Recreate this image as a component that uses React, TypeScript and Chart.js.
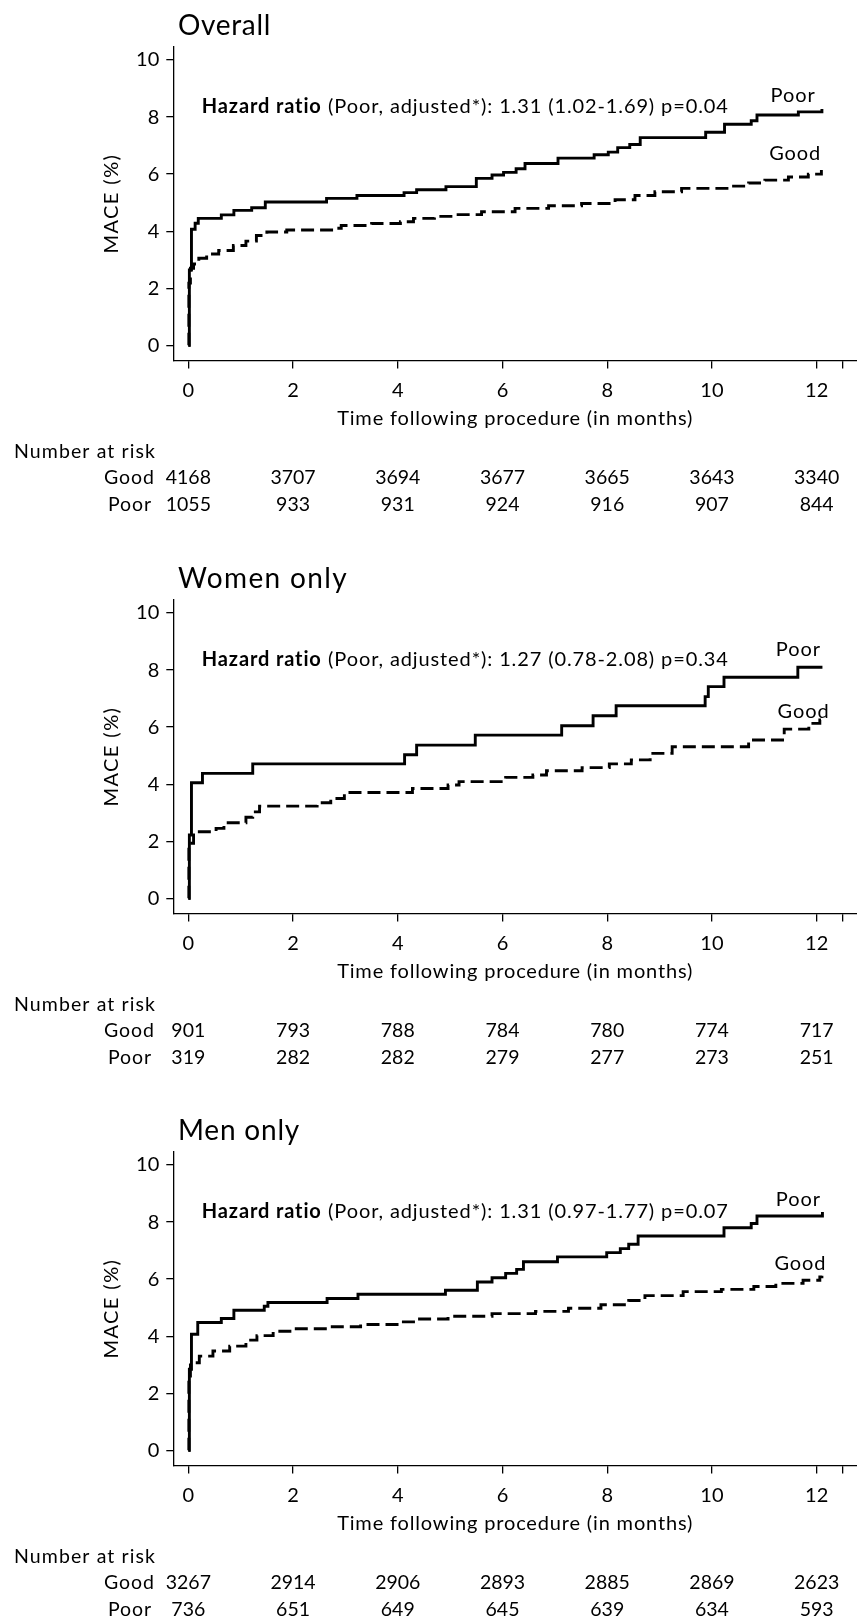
import React, { useEffect, useRef } from 'react';
import { Chart, registerables } from 'chart.js';

Chart.register(...registerables);

const FONT = 'Lato, "Open Sans", sans-serif';

// ---------- data ----------
const panelTitles = ['Overall', 'Women only', 'Men only'];
const hazardResults = ['1.31 (1.02-1.69) p=0.04', '1.27 (0.78-2.08) p=0.34', '1.31 (0.97-1.77) p=0.07'];

const xTickValues = [0, 2, 4, 6, 8, 10, 12];
const yTickValues = [0, 2, 4, 6, 8, 10];
const riskTimes = [0, 2, 4, 6, 8, 10, 12];

const overallRiskGood = [4168, 3707, 3694, 3677, 3665, 3643, 3340];
const overallRiskPoor = [1055, 933, 931, 924, 916, 907, 844];
const womenRiskGood = [901, 793, 788, 784, 780, 774, 717];
const womenRiskPoor = [319, 282, 282, 279, 277, 273, 251];
const menRiskGood = [3267, 2914, 2906, 2893, 2885, 2869, 2623];
const menRiskPoor = [736, 651, 649, 645, 639, 634, 593];

const overallPoorTime = [0, 0.02, 0.06, 0.13, 0.19, 0.63, 0.87, 1.21, 1.47, 2.64, 3.22, 4.12, 4.36, 4.92, 5.5, 5.8, 6.02, 6.26, 6.43, 7.06, 7.75, 8.02, 8.2, 8.43, 8.63, 9.88, 10.24, 10.75, 10.86, 11.65, 12.1];
const overallPoorMace = [0, 2.64, 4.07, 4.28, 4.45, 4.57, 4.73, 4.82, 5.02, 5.15, 5.25, 5.35, 5.45, 5.56, 5.85, 5.97, 6.06, 6.19, 6.37, 6.56, 6.68, 6.77, 6.93, 7.04, 7.28, 7.47, 7.75, 7.87, 8.07, 8.18, 8.28];
const overallGoodTime = [0, 0.01, 0.04, 0.1, 0.2, 0.35, 0.58, 0.86, 1.1, 1.3, 1.5, 1.88, 2.77, 2.92, 3.5, 4.05, 4.3, 4.7, 5.07, 5.6, 6.24, 6.88, 7.51, 8.15, 8.53, 8.91, 9.42, 10.38, 10.7, 11.01, 11.46, 11.84, 12.09];
const overallGoodMace = [0, 2.18, 2.7, 2.85, 3.05, 3.2, 3.32, 3.5, 3.65, 3.85, 3.97, 4.04, 4.1, 4.2, 4.27, 4.33, 4.45, 4.52, 4.58, 4.68, 4.8, 4.89, 4.97, 5.1, 5.25, 5.38, 5.5, 5.58, 5.69, 5.79, 5.9, 6.0, 6.14];

const womenPoorTime = [0, 0.02, 0.06, 0.27, 1.23, 4.13, 4.36, 5.48, 7.13, 7.73, 8.17, 9.87, 9.93, 10.23, 11.64, 12.11];
const womenPoorMace = [0, 2.22, 4.05, 4.38, 4.71, 5.03, 5.37, 5.72, 6.05, 6.4, 6.75, 7.07, 7.42, 7.75, 8.1, 8.1];
const womenGoodTime = [0, 0.01, 0.1, 0.53, 0.68, 1.1, 1.23, 1.36, 2.46, 2.72, 2.98, 4.28, 4.96, 5.17, 6.06, 6.58, 6.84, 7.52, 8.04, 8.46, 8.82, 9.24, 10.7, 11.38, 11.85, 12.06, 12.1];
const womenGoodMace = [0, 1.93, 2.33, 2.45, 2.65, 2.84, 3.03, 3.23, 3.35, 3.5, 3.71, 3.85, 3.97, 4.09, 4.24, 4.32, 4.47, 4.58, 4.71, 4.85, 5.08, 5.31, 5.55, 5.93, 6.13, 6.25, 6.25];

const menPoorTime = [0, 0.02, 0.06, 0.18, 0.63, 0.87, 1.45, 1.52, 2.65, 3.24, 4.91, 5.52, 5.8, 6.06, 6.27, 6.4, 7.05, 7.99, 8.25, 8.41, 8.59, 10.23, 10.75, 10.86, 12.11];
const menPoorMace = [0, 2.84, 4.07, 4.48, 4.62, 4.91, 5.05, 5.18, 5.32, 5.47, 5.61, 5.9, 6.05, 6.2, 6.34, 6.61, 6.78, 6.93, 7.07, 7.22, 7.51, 7.8, 7.95, 8.21, 8.35];
const menGoodTime = [0, 0.01, 0.04, 0.21, 0.47, 0.79, 1.1, 1.31, 1.62, 2.03, 2.67, 3.29, 4.02, 4.34, 4.96, 5.8, 6.63, 7.26, 7.88, 8.41, 8.72, 9.45, 10.18, 10.8, 11.22, 11.74, 12.06, 12.1];
const menGoodMace = [0, 2.6, 3.07, 3.3, 3.48, 3.65, 3.86, 4.02, 4.17, 4.26, 4.33, 4.41, 4.5, 4.6, 4.7, 4.79, 4.87, 4.98, 5.1, 5.25, 5.42, 5.56, 5.64, 5.74, 5.85, 5.96, 6.08, 6.12];

// ---------- layout / style ----------
const W = 857;
const PANEL_TOPS = [0, 552.5, 1105];
const PANEL_H = [552, 552, 516];
const AREA_LEFT = 173.3;
const AREA_TOP = 46.7;
const AREA_BOTTOM = 360.5;
const X_MIN = -0.287;
const X_MAX = 12.77;
const Y_MIN = -0.533;
const Y_MAX = 10.466;

type Panel = {
  title: string;
  hr: string;
  goodT: number[];
  goodY: number[];
  poorT: number[];
  poorY: number[];
  riskGood: number[];
  riskPoor: number[];
  poorLabel: [number, number];
  goodLabel: [number, number];
};

const panels: Panel[] = [
  { title: panelTitles[0], hr: hazardResults[0], goodT: overallGoodTime, goodY: overallGoodMace, poorT: overallPoorTime, poorY: overallPoorMace, riskGood: overallRiskGood, riskPoor: overallRiskPoor, poorLabel: [11.55, 8.54], goodLabel: [11.59, 6.5] },
  { title: panelTitles[1], hr: hazardResults[1], goodT: womenGoodTime, goodY: womenGoodMace, poorT: womenPoorTime, poorY: womenPoorMace, riskGood: womenRiskGood, riskPoor: womenRiskPoor, poorLabel: [11.65, 8.5], goodLabel: [11.75, 6.32] },
  { title: panelTitles[2], hr: hazardResults[2], goodT: menGoodTime, goodY: menGoodMace, poorT: menPoorTime, poorY: menPoorMace, riskGood: menRiskGood, riskPoor: menRiskPoor, poorLabel: [11.65, 8.56], goodLabel: [11.69, 6.32] },
];

function toXY(t: number[], y: number[]) {
  return t.map((v, i) => ({ x: v, y: y[i] }));
}

function setSpacing(ctx: any, px: number) {
  if ('letterSpacing' in ctx) ctx.letterSpacing = `${px}px`;
}

// draw text stretched (via letter spacing) to an approximate target width
function fitText(ctx: any, text: string, x: number, y: number, targetW: number, align: 'left' | 'center' | 'right') {
  setSpacing(ctx, 0);
  const w = ctx.measureText(text).width;
  const sp = Math.max(0, Math.min(2, (targetW - w) / Math.max(1, text.length)));
  setSpacing(ctx, sp);
  const total = w + sp * text.length;
  ctx.textAlign = 'left';
  let sx = x;
  if (align === 'center') sx = x - total / 2;
  else if (align === 'right') sx = x - total;
  ctx.fillText(text, sx, y);
  setSpacing(ctx, 0);
}

function makeChart(canvas: HTMLCanvasElement, panel: Panel, height: number) {
  const textPlugin = {
    id: 'kmText',
    afterDraw(chart: any) {
      const ctx: any = chart.ctx;
      const xs = chart.scales.x;
      const ys = chart.scales.y;
      ctx.save();
      ctx.fillStyle = '#000';
      ctx.textBaseline = 'alphabetic';

      // panel title
      ctx.font = `28px ${FONT}`;
      const titleScale = panel.title === 'Overall' ? 93 : panel.title === 'Women only' ? 170 : 122;
      fitText(ctx, panel.title, 178, 34.5, titleScale, 'left');

      // hazard ratio annotation
      const boldPart = 'Hazard ratio';
      const restPart = ' (Poor, adjusted*): ' + panel.hr;
      const size = 20;
      setSpacing(ctx, 0);
      ctx.font = `bold ${size}px ${FONT}`;
      const wb = ctx.measureText(boldPart).width;
      ctx.font = `${size}px ${FONT}`;
      const wr = ctx.measureText(restPart).width;
      const target = 527;
      const nChars = boldPart.length + restPart.length;
      const sp = Math.max(0, Math.min(1.5, (target - wb - wr) / nChars));
      const hx = xs.getPixelForValue(0.256);
      const hy = ys.getPixelForValue(8.15);
      ctx.textAlign = 'left';
      setSpacing(ctx, sp);
      ctx.font = `bold ${size}px ${FONT}`;
      ctx.fillText(boldPart, hx, hy);
      ctx.font = `${size}px ${FONT}`;
      ctx.fillText(restPart, hx + wb + sp * boldPart.length, hy);
      setSpacing(ctx, 0);

      // curve labels
      ctx.font = `20px ${FONT}`;
      fitText(ctx, 'Poor', xs.getPixelForValue(panel.poorLabel[0]), ys.getPixelForValue(panel.poorLabel[1]), 45, 'center');
      fitText(ctx, 'Good', xs.getPixelForValue(panel.goodLabel[0]), ys.getPixelForValue(panel.goodLabel[1]), 52, 'center');

      // y axis title
      ctx.save();
      ctx.translate(112, (AREA_TOP + AREA_BOTTOM) / 2);
      ctx.rotate(-Math.PI / 2);
      ctx.textBaseline = 'middle';
      ctx.font = `20px ${FONT}`;
      fitText(ctx, 'MACE (%)', 0, 0, 100, 'center');
      ctx.restore();

      // x axis title
      ctx.font = `20px ${FONT}`;
      fitText(ctx, 'Time following procedure (in months)', (chart.chartArea.left + chart.chartArea.right) / 2, 425, 356, 'center');

      // number at risk table
      ctx.font = `19.5px ${FONT}`;
      fitText(ctx, 'Number at risk', 14, 458.3, 142, 'left');
      fitText(ctx, 'Good', 155, 484.3, 51, 'right');
      fitText(ctx, 'Poor', 152, 510.7, 44, 'right');
      ctx.textAlign = 'center';
      riskTimes.forEach((t, i) => {
        const px = xs.getPixelForValue(t);
        ctx.fillText(String(panel.riskGood[i]), px, 484.3);
        ctx.fillText(String(panel.riskPoor[i]), px, 510.7);
      });
      ctx.restore();
    },
  };

  return new Chart(canvas, {
    type: 'line',
    data: {
      datasets: [
        {
          label: 'Good',
          data: toXY(panel.goodT, panel.goodY),
          borderColor: '#000',
          borderWidth: 2.9,
          borderDash: [13, 6],
          stepped: 'before',
          pointRadius: 0,
          fill: false,
        },
        {
          label: 'Poor',
          data: toXY(panel.poorT, panel.poorY),
          borderColor: '#000',
          borderWidth: 2.9,
          stepped: 'before',
          pointRadius: 0,
          fill: false,
        },
      ],
    },
    options: {
      animation: false,
      responsive: false,
      devicePixelRatio: 1,
      layout: { padding: { top: AREA_TOP, left: 0, right: 0, bottom: 0 } },
      plugins: {
        legend: { display: false },
        tooltip: { enabled: false },
        title: { display: false },
      },
      scales: {
        x: {
          type: 'linear',
          min: X_MIN,
          max: X_MAX,
          afterBuildTicks: (s: any) => {
            s.ticks = [...xTickValues, 12.5].map((v) => ({ value: v }));
          },
          ticks: {
            callback: (v: any) => (xTickValues.includes(Number(v)) ? String(v) : ''),
            font: { family: FONT, size: 20 },
            color: '#000',
            padding: 10,
            maxRotation: 0,
            autoSkip: false,
          },
          grid: { drawOnChartArea: false, drawTicks: true, tickLength: 8, color: '#000', lineWidth: 1.3 },
          border: { display: true, color: '#000', width: 1.3 },
          afterFit: (s: any) => {
            s.height = height - AREA_BOTTOM;
          },
        },
        y: {
          type: 'linear',
          min: Y_MIN,
          max: Y_MAX,
          afterBuildTicks: (s: any) => {
            s.ticks = yTickValues.map((v) => ({ value: v }));
          },
          ticks: {
            callback: (v: any) => String(v),
            font: { family: FONT, size: 20 },
            color: '#000',
            padding: 7,
            autoSkip: false,
          },
          grid: { drawOnChartArea: false, drawTicks: true, tickLength: 7, color: '#000', lineWidth: 1.3 },
          border: { display: true, color: '#000', width: 1.3 },
          afterFit: (s: any) => {
            s.width = AREA_LEFT;
          },
        },
      },
    } as any,
    plugins: [textPlugin],
  });
}

function KMPanel({ panel, top, height }: { panel: Panel; top: number; height: number }) {
  const ref = useRef<HTMLCanvasElement | null>(null);
  useEffect(() => {
    if (!ref.current) return;
    const chart = makeChart(ref.current, panel, height);
    return () => chart.destroy();
  }, [panel, height]);
  return (
    <canvas
      ref={ref}
      width={W}
      height={height}
      style={{ position: 'absolute', left: 0, top, width: W, height, display: 'block' }}
    />
  );
}

export default function App() {
  return (
    <div
      style={{
        position: 'absolute',
        left: 0,
        top: 0,
        width: W,
        height: 1621,
        overflow: 'hidden',
        background: '#fff',
      }}
    >
      {panels.map((p, i) => (
        <KMPanel key={i} panel={p} top={PANEL_TOPS[i]} height={PANEL_H[i]} />
      ))}
    </div>
  );
}
